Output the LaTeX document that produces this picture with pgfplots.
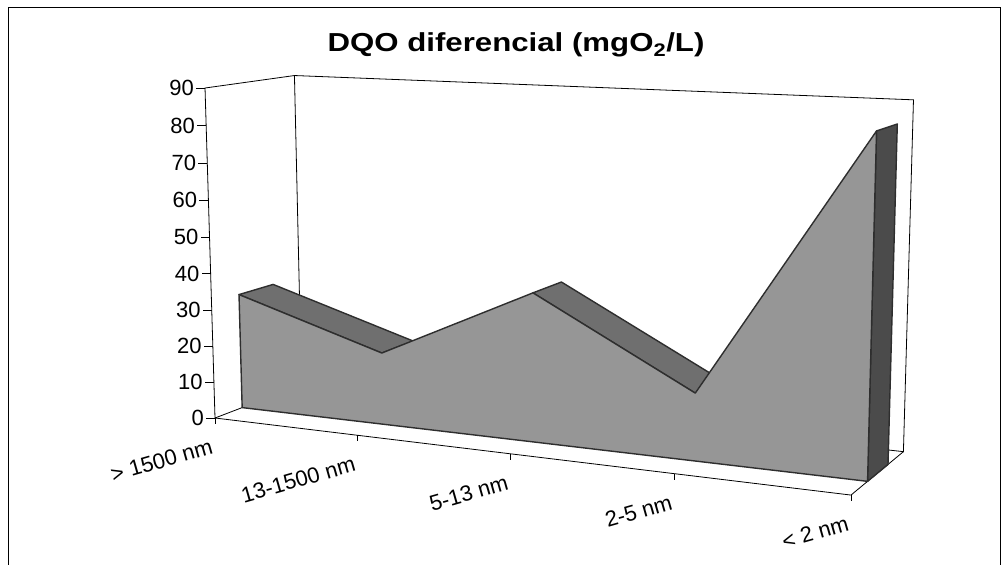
\documentclass[border=0pt]{standalone}
\usepackage{fontspec}
\setmainfont{Liberation Sans}
\usepackage{pgfplots}
\usepackage{pgfplotstable}
\pgfplotsset{compat=1.18}
\definecolor{frontgray}{HTML}{969696}
\definecolor{topgray}{HTML}{6F6F6F}
\definecolor{sidegray}{HTML}{4B4B4B}
\definecolor{edgegray}{HTML}{2E2E2E}

% category index c (0..4), depth d (0 front .. 1 back), value z (0..90)
\pgfplotstableread{
c d z
0 0.3 32
1 0.3 19.6
2 0.3 39.5
3 0.3 17.5
4 0.3 85.3
4 0.3 0
0 0.3 0
}\frontface
\pgfplotstableread{
c d z
0 0.3 32
1 0.3 19.6
1 0.69 19.6
0 0.69 32
}\stripA
\pgfplotstableread{
c d z
2 0.3 39.5
3 0.3 17.5
3 0.69 17.5
2 0.69 39.5
}\stripB
\pgfplotstableread{
c d z
4 0.3 0
4 0.3 85.3
4 0.69 85.3
4 0.69 0
}\sideface
\pgfplotstableread{
c d z
0 1 0
4 1 0
4 1 90
0 1 90
0 1 0
}\backwall
\pgfplotstableread{
c d z
0 1 0
0 0 0
0 0 90
0 1 90
}\leftwall
\pgfplotstableread{
c d z
0 0 0
4 0 0
4 1 0
}\floorline
\pgfplotstableread{
c d z
0 0 0
0 0 10
0 0 20
0 0 30
0 0 40
0 0 50
0 0 60
0 0 70
0 0 80
0 0 90
}\yticks
\pgfplotstableread{
c d z lab
0 0 0 {> 1500 nm}
1 0 0 {13-1500 nm}
2 0 0 {5-13 nm}
3 0 0 {2-5 nm}
4 0 0 {< 2 nm}
}\xticks

\pgfplotsset{/pgfplots/table/proj/.style={
  x expr={PX(\thisrow{c},\thisrow{d},\thisrow{z})},
  y expr={PY(\thisrow{c},\thisrow{d},\thisrow{z})}}}

\begin{document}
\begin{tikzpicture}[declare function={
  den(\cc,\dd,\zz)=1-0.03275*\cc+0.068*\dd-0.00030444*\zz;
  PX(\cc,\dd,\zz)=(131.125*\cc+107*\dd-0.17333*\zz+215)/den(\cc,\dd,\zz);
  PY(\cc,\dd,\zz)=(3.05*\cc-7*\dd-3.69333*\zz+418)/den(\cc,\dd,\zz);}]
\begin{axis}[
  width=1008bp, height=564bp, scale only axis,
  xmin=0, xmax=1008, ymin=0, ymax=564, y dir=reverse,
  hide axis, clip=false]
% chart border
\draw[black, line width=0.9bp] (axis cs:8,566) -- (axis cs:8,7) -- (axis cs:1000,7) -- (axis cs:1000,566);
% walls and floor
\addplot[black, line width=0.8bp] table[proj]{\backwall};
\addplot[black, line width=0.8bp] table[proj]{\leftwall};
\addplot[black, line width=0.8bp] table[proj]{\floorline};
% ticks
\addplot[black, line width=0.8bp, quiver={u=-9,v=0}] table[proj]{\yticks};
\addplot[black, line width=0.8bp, quiver={u=0,v=6}] table[proj]{\xticks};
% tick labels
\addplot[draw=none, point meta=explicit symbolic,
  nodes near coords={\pgfplotspointmeta},
  every node near coord/.append style={anchor=east, xshift=-11bp, inner sep=0pt,
    font=\fontsize{22bp}{26bp}\selectfont, text=black}]
  table[proj, meta=z]{\yticks};
\addplot[draw=none, point meta=explicit symbolic,
  nodes near coords={\pgfplotspointmeta},
  every node near coord/.append style={anchor=east, xshift=-3bp, yshift=-28bp, rotate=16,
    inner sep=0pt, font=\fontsize{22bp}{26bp}\selectfont, text=black}]
  table[proj, meta=lab]{\xticks};
% area solid
\addplot[fill=topgray, draw=edgegray, line width=1.4bp, line join=round] table[proj]{\stripA} -- cycle;
\addplot[fill=topgray, draw=edgegray, line width=1.4bp, line join=round] table[proj]{\stripB} -- cycle;
\addplot[fill=sidegray, draw=edgegray, line width=1.4bp, line join=round] table[proj]{\sideface} -- cycle;
\addplot[fill=frontgray, draw=edgegray, line width=1.4bp, line join=round] table[proj]{\frontface} -- cycle;
% title
\node[anchor=base, xscale=1.2, font=\bfseries\fontsize{26bp}{30bp}\selectfont] at (axis cs:516,52)
  {DQO diferencial (mgO\textsubscript{2}/L)};
\end{axis}
\pgfresetboundingbox
\path[use as bounding box] (current axis.south west) rectangle (current axis.north east);
\end{tikzpicture}
\end{document}
